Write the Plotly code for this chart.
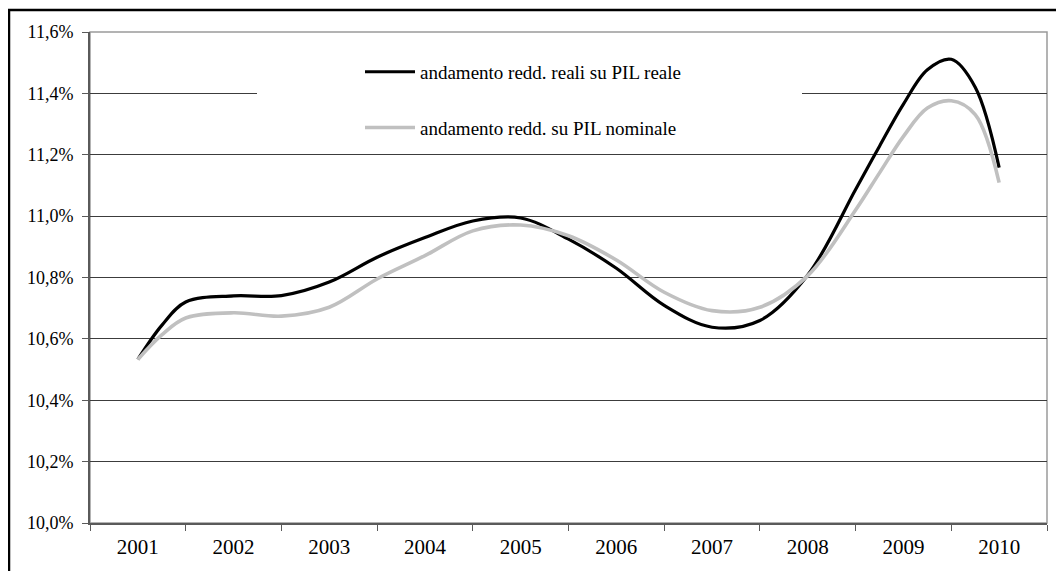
import plotly.graph_objects as go

# positions along the year axis where the curves were read (fractional = between labels)
x_pos = [2001, 2001.25, 2001.5, 2002, 2002.5, 2003, 2003.5, 2004, 2004.5, 2005, 2005.5,
         2006, 2006.5, 2007, 2007.5, 2008, 2008.5, 2008.75, 2009, 2009.25, 2009.5, 2009.75, 2010]

# trend of real income over real GDP (%)
reali = [10.533, 10.644, 10.72, 10.740, 10.741, 10.785, 10.866, 10.930, 10.984, 10.994, 10.925,
         10.830, 10.709, 10.638, 10.660, 10.808, 11.087, 11.228, 11.365, 11.477, 11.511, 11.42, 11.158]

# trend of income over nominal GDP (%)
nominale = [10.533, 10.613, 10.668, 10.685, 10.674, 10.703, 10.795, 10.871, 10.952, 10.971, 10.936,
            10.857, 10.752, 10.692, 10.703, 10.806, 11.02, 11.141, 11.26, 11.352, 11.376, 11.331, 11.109]

years = [2001, 2002, 2003, 2004, 2005, 2006, 2007, 2008, 2009, 2010]
year_labels = [str(y) for y in years]

names = ["andamento redd. reali su PIL reale", "andamento redd. su PIL nominale"]

FONT = "Liberation Serif"

fig = go.Figure()
fig.add_trace(go.Scatter(
    x=x_pos, y=reali, mode="lines", name=names[0], legendgroup="a",
    line=dict(color="#000000", width=3.2, shape="spline", smoothing=1),
))
fig.add_trace(go.Scatter(
    x=x_pos, y=nominale, mode="lines", name=names[1], legendgroup="b",
    line=dict(color="#c0c0c0", width=3.6, shape="spline", smoothing=1),
))

# the page body adds an 8px offset, so the figure is 8px smaller and margins shifted
fig.update_layout(
    width=1056, height=563,
    margin=dict(l=82, r=17, t=24, b=46),
    paper_bgcolor="white", plot_bgcolor="white",
    font=dict(family=FONT, color="#000000"),
    separators=",.",
    showlegend=True,
    legend=dict(
        x=(360 - 90) / 957, xanchor="left",
        y=(525 - 53) / 493, yanchor="top",
        bgcolor="rgba(0,0,0,0)", borderwidth=0,
        font=dict(family=FONT, size=19, color="#000000"),
        tracegroupgap=28, itemwidth=50,
    ),
    xaxis=dict(
        range=[2000.5, 2010.5],
        tickmode="array", tickvals=years, ticktext=year_labels,
        ticks="", showgrid=False, zeroline=False,
        showline=True, linecolor="#5a5a5a", linewidth=2,
        ticklabelstandoff=4,
        tickfont=dict(family=FONT, size=21, color="#000000"),
        minor=dict(tick0=2000.5, dtick=1, ticks="outside", ticklen=6,
                   tickcolor="#5a5a5a", tickwidth=1, showgrid=False),
    ),
    yaxis=dict(
        range=[10.0, 11.6], tick0=10.0, dtick=0.2,
        tickformat=".1f", ticksuffix="%",
        showgrid=True, gridcolor="#3c3c3c", gridwidth=1,
        zeroline=False,
        showline=True, linecolor="#5a5a5a", linewidth=2,
        ticks="outside", ticklen=6, tickcolor="#5a5a5a",
        ticklabelstandoff=5,
        tickfont=dict(family=FONT, size=18, color="#000000"),
    ),
    shapes=[
        # light grey frame of the plot area (top and right)
        dict(type="rect", xref="paper", yref="paper", x0=0, x1=1, y0=0, y1=1,
             line=dict(color="#9a9a9a", width=1.5), layer="below"),
        # white box behind the legend, hiding the gridline
        dict(type="rect", xref="paper", yref="paper",
             x0=(257 - 90) / 957, x1=(802 - 90) / 957,
             y0=(525 - 150) / 493, y1=(525 - 45) / 493,
             fillcolor="white", line=dict(width=0), layer="above"),
        # outer black chart border
        dict(type="rect", xref="paper", yref="paper",
             x0=(9 - 90) / 957, x1=1.2,
             y0=-0.3, y1=(525 - 10) / 493,
             line=dict(color="#000000", width=2.5), layer="above"),
    ],
)

fig.write_html("out.html")
